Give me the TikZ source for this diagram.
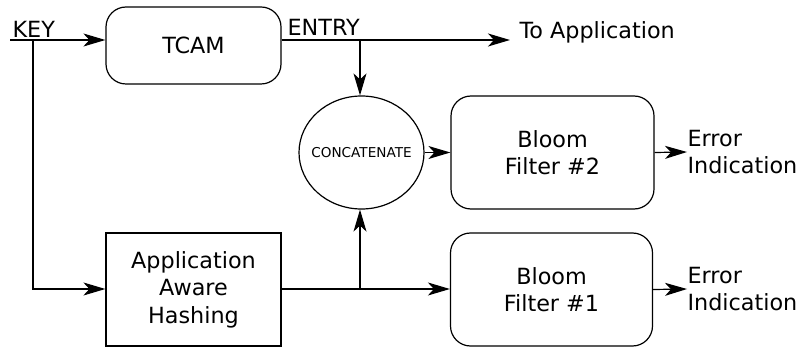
\documentclass[tikz,border=0pt]{standalone}
\usepackage{fontspec}
\setmainfont{DejaVu Sans}
\usetikzlibrary{shapes.geometric,arrows.meta}
\begin{document}
\begin{tikzpicture}[x=1pt,y=-1pt,
  line width=1.2pt,
  arr/.style={-{Stealth[length=22pt,width=13pt,inset=6pt]}},
  rbox/.style={draw,rounded corners=20pt,align=center,inner sep=0pt,
    font=\fontsize{22.3}{27.5}\selectfont},
  sbox/.style={draw,align=center,inner sep=0pt,
    font=\fontsize{22.3}{27.5}\selectfont},
  lbl/.style={inner sep=0pt,font=\fontsize{22.3}{27.5}\selectfont},
  errlbl/.style={inner sep=0pt,align=left,anchor=west,
    font=\fontsize{22.3}{27}\selectfont}]
\useasboundingbox (0,0) rectangle (800,347);
% boxes
\node[rbox,minimum width=175pt,minimum height=77pt] (tcam) at (193.5,45.5) {TCAM};
\node[sbox,minimum width=175pt,minimum height=113pt] (hash) at (193.5,289.5) {Application\\Aware\\Hashing};
\node[draw,ellipse,inner sep=0pt,minimum width=125pt,minimum height=113pt] (concat) at (361.5,152.5) {};
\node[inner sep=0pt,font=\fontsize{13.6}{16}\selectfont] (concattxt) at (concat.center) {CONCATENATE};
\node[rbox,minimum width=203pt,minimum height=113pt] (bf2) at (552.5,152.5) {Bloom\\Filter \#2};
\node[rbox,minimum width=202pt,minimum height=113pt] (bf1) at (551.5,289.5) {Bloom\\Filter \#1};
% labels
\node[lbl,anchor=base west] (key) at (12,38) {KEY};
\node[lbl,anchor=base west] (entry) at (287,36) {ENTRY};
\node[lbl,anchor=base west] (toapp) at (519,39) {To Application};
\node[errlbl] (err2) at (687,152) {Error\\Indication};
\node[errlbl] (err1) at (687,289) {Error\\Indication};
% coordinates
\coordinate (kstart) at (10,40);
\coordinate (kbr) at (33,40);
\coordinate (kdown) at (33,289);
\coordinate (ebr) at (360,40);
\coordinate (eend) at (510,40);
\coordinate (hbr) at (360,289);
% connectors
\draw[arr] (kstart) -- (tcam.west |- kstart);
\draw[arr] (kbr) -- (kdown) -- (hash.west |- kdown);
\draw[arr] (tcam.east |- eend) -- (eend);
\draw[arr] (ebr) -- (ebr |- concat.north);
\draw[arr] (hash.east |- hbr) -- (bf1.west |- hbr);
\draw[arr] (hbr) -- (hbr |- concat.south);
\draw[arr] (concat.east) -- (bf2.west);
\draw[arr] (bf2.east) -- (err2.west);
\draw[arr] (bf1.east) -- (err1.west);
\end{tikzpicture}
\end{document}
